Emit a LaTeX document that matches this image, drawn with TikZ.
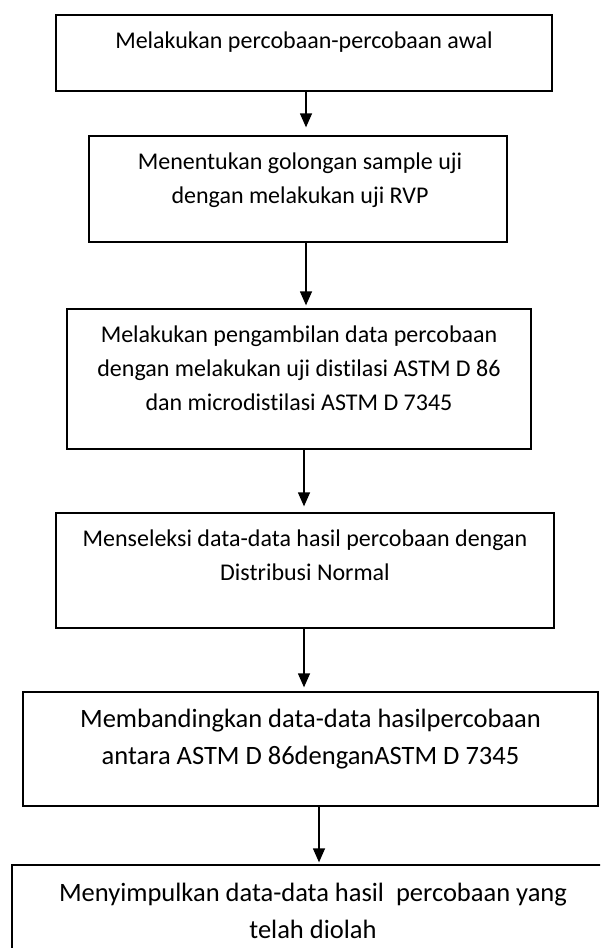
\documentclass[tikz,border=0pt]{standalone}
\usepackage{fontspec}
\setmainfont{Carlito}[Ligatures=NoCommon]
\usetikzlibrary{positioning,arrows.meta}

\begin{document}
\begin{tikzpicture}[x=1pt, y=-1pt,
	box/.style = {draw, line width=1.3pt, inner sep=0pt},
	txt/.style = {inner sep=0pt, align=center, font=\fontsize{24}{34}\selectfont},
	bigtxt/.style = {inner sep=0pt, align=center, font=\fontsize{26.5}{36.5}\selectfont},
	arr/.style = {line width=1.3pt, -{Triangle[length=14pt, width=12pt]}}]
	\useasboundingbox (0, 0) rectangle (600, 948);
	\clip (0, 0) rectangle (600, 948);
	% boxes
	\node [box, minimum width=496pt, minimum height=76pt] (b1) at (304, 53) {};
	\node [box, minimum width=418pt, minimum height=106pt] (b2) at (298, 189) {};
	\node [box, minimum width=464pt, minimum height=140pt] (b3) at (299, 379) {};
	\node [box, minimum width=498pt, minimum height=115pt] (b4) at (305, 570.5) {};
	\node [box, minimum width=575pt, minimum height=114pt] (b5) at (310.5, 749) {};
	\node [box, minimum width=602pt, minimum height=110pt] (b6) at (313, 920) {};
	% texts
	\node [txt, below=17pt of b1.north] (t1) {Melakukan percobaan-percobaan awal};
	\node [txt, below=17pt of b2.north, xshift=2pt] (t2) {Menentukan golongan sample uji\\dengan melakukan uji RVP};
	\node [txt, below=17pt of b3.north] (t3) {Melakukan pengambilan data percobaan\\dengan melakukan uji distilasi ASTM D 86\\dan microdistilasi ASTM D 7345};
	\node [txt, below=17pt of b4.north] (t4) {Menseleksi data-data hasil percobaan dengan\\Distribusi Normal};
	\node [bigtxt, below=18pt of b5.north] (t5) {Membandingkan data-data hasilpercobaan\\antara ASTM D 86denganASTM D 7345};
	\node [bigtxt, below=19pt of b6.north] (t6) {Menyimpulkan data-data hasil \ percobaan yang\\telah diolah};
	% arrows
	\draw [arr, shorten >=8pt] ([xshift=2pt]b1.south) -- ([xshift=2pt]b1.south |- b2.north);
	\draw [arr, shorten >=3pt] ([xshift=8pt]b2.south) -- ([xshift=8pt]b2.south |- b3.north);
	\draw [arr, shorten >=6pt] ([xshift=5pt]b3.south) -- ([xshift=5pt]b3.south |- b4.north);
	\draw [arr, shorten >=4pt] ([xshift=-1pt]b4.south) -- ([xshift=-1pt]b4.south |- b5.north);
	\draw [arr, shorten >=2pt] ([xshift=8.5pt]b5.south) -- ([xshift=8.5pt]b5.south |- b6.north);
\end{tikzpicture}
\end{document}
